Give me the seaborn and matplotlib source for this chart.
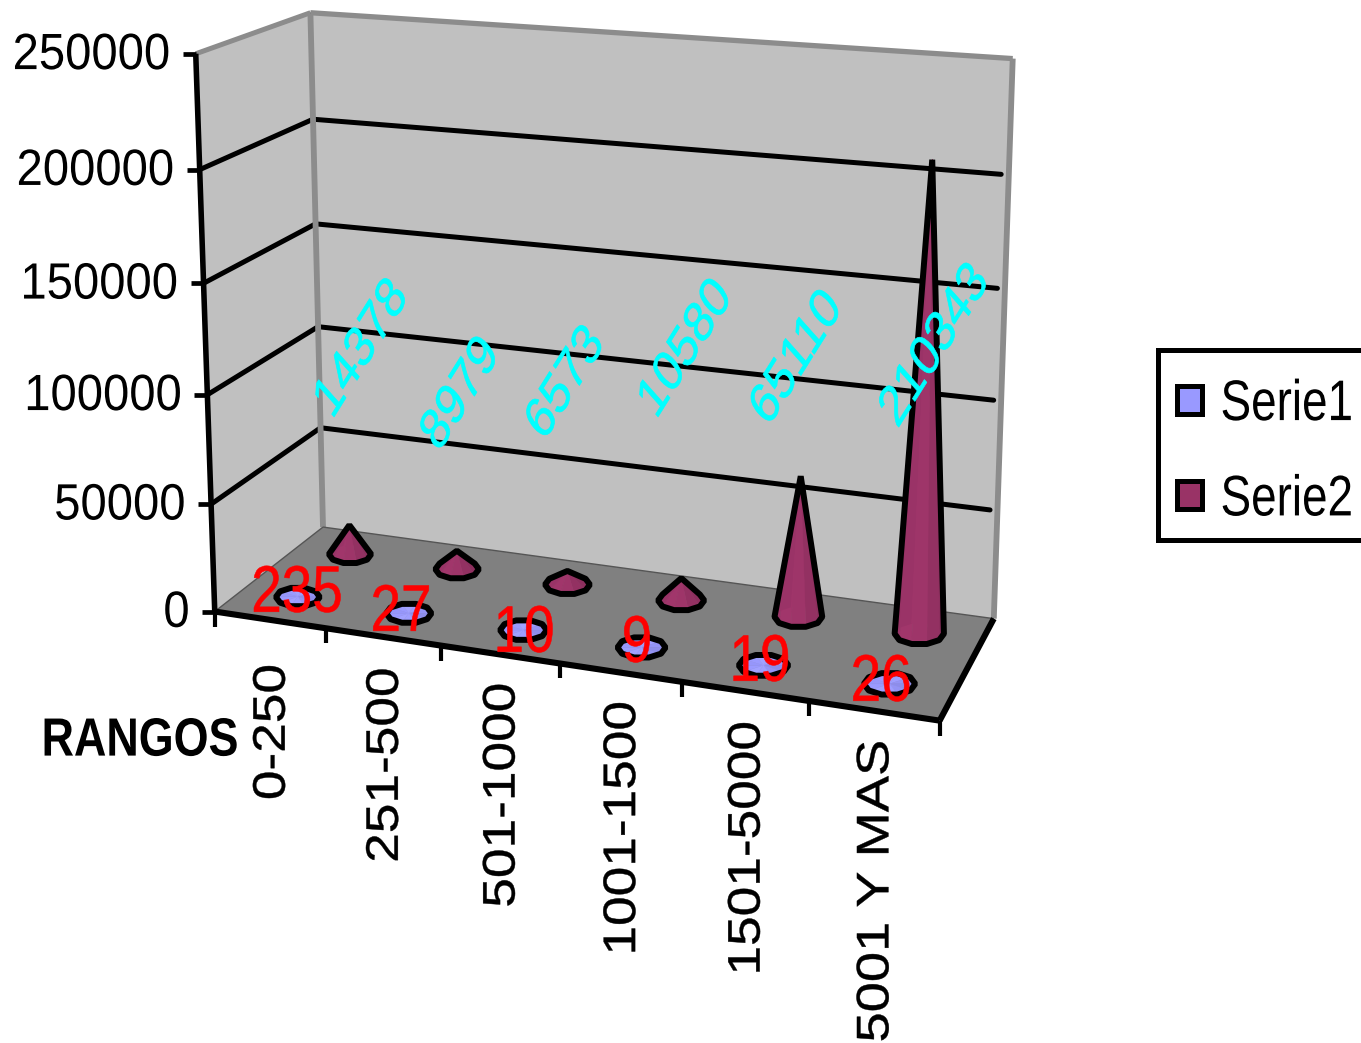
import numpy as np
import pandas as pd
import matplotlib
matplotlib.use("Agg")
import matplotlib.pyplot as plt
import matplotlib.patheffects as pe
from matplotlib.patches import Patch, Rectangle
from matplotlib.transforms import Affine2D
import seaborn as sns

# ---------- data ----------
categories = ["0-250", "251-500", "501-1000", "1001-1500", "1501-5000", "5001 Y MAS"]
serie1 = [235, 27, 10, 9, 19, 26]
serie2 = [14378, 8979, 6573, 10580, 65110, 210343]
value_ticks = [0, 50000, 100000, 150000, 200000, 250000]

# ---------- styling / layout ----------
W, H = 1361, 1043
VMAX = 250000
WALL, FLOOR, EDGE = "#c0c0c0", "#808080", "#8c8c8c"
C1, C2 = "#9999ff", "#993366"
FONT = "Liberation Sans"

sns.set_theme(style="white")
plt.rcParams["font.family"] = [FONT, "DejaVu Sans"]
plt.rcParams["text.color"] = "black"

# label placement (layout only)
cat_label_cy = [732, 765, 795, 828, 848, 891]
cat_label_stretch = [1.05, 1.05, 1.05, 1.05, 1.05, 1.07]
cyan_xy = [(362, 349), (461, 394), (566, 383), (686, 349), (797, 358), (935, 346)]
red_xy = [(297, 594), (401, 613), (524, 634), (637, 644), (760, 663), (881, 683)]

# Camera: corners of the plot box -> picture pixels (layout only)
box_world = [(0, 0, 0), (1, 0, 0), (0, 1, 0), (1, 1, 0), (0, 0, 1), (0, 1, 1), (1, 1, 1)]
box_pixel = [(215, 612), (938, 722), (323, 527), (995, 617), (197, 52), (309, 14), (1013, 59)]


def fit_camera(world, pixel):
    rows = []
    for (x, y, z), (px, py) in zip(world, pixel):
        px, py = px / 1000, py / 1000
        rows.append([x, y, z, 1, 0, 0, 0, 0, -px * x, -px * y, -px * z, -px])
        rows.append([0, 0, 0, 0, x, y, z, 1, -py * x, -py * y, -py * z, -py])
    _, _, vt = np.linalg.svd(np.array(rows, float))
    return vt[-1].reshape(3, 4)


CAM = fit_camera(box_world, box_pixel)


def proj(u, v, value):
    q = CAM @ np.array([u, v, value / VMAX, 1.0])
    return np.array([1000 * q[0] / q[2], 1000 * q[1] / q[2]])


def hull(points):
    pts = sorted(map(tuple, points))

    def half(seq):
        out = []
        for p in seq:
            while len(out) > 1:
                a, b = np.subtract(out[-1], out[-2]), np.subtract(p, out[-2])
                if a[0] * b[1] - a[1] * b[0] <= 0:
                    out.pop()
                else:
                    break
            out.append(p)
        return out[:-1]

    return np.array(half(pts) + half(pts[::-1]))


class Stretch(pe.AbstractPathEffect):
    """Stretch real text about its centre, as the source picture's scaling did."""

    def __init__(self, sx=1.0, sy=1.0, bold=0.0):
        super().__init__()
        self.sx, self.sy, self.bold = sx, sy, bold

    def draw_path(self, renderer, gc, tpath, affine, rgbFace=None):
        e = tpath.get_extents(affine)
        cx, cy = (e.x0 + e.x1) / 2, (e.y0 + e.y1) / 2
        post = Affine2D().translate(-cx, -cy).scale(self.sx, self.sy).translate(cx, cy)
        if self.bold:
            gc.set_linewidth(self.bold)
        renderer.draw_path(gc, tpath, affine + post, rgbFace)


fig = plt.figure(figsize=(W / 100, H / 100), dpi=100)
ax = fig.add_axes([0, 0, 1, 1])
ax.set_xlim(0, W)
ax.set_ylim(H, 0)
ax.axis("off")


# ---------- box ----------
def face(corners, color, z):
    ax.fill(*zip(*[proj(*c) for c in corners]), color=color, lw=0, zorder=z)


def seg(a, b, color, lw, z=2):
    pa, pb = proj(*a), proj(*b)
    ax.plot([pa[0], pb[0]], [pa[1], pb[1]], color=color, lw=lw, zorder=z, solid_capstyle="butt")


face([(0, 0, 0), (0, 0, VMAX), (0, 1, VMAX), (0, 1, 0)], WALL, 1)
face([(0, 1, 0), (0, 1, VMAX), (1, 1, VMAX), (1, 1, 0)], WALL, 1)
face([(0, 0, 0), (0, 1, 0), (1, 1, 0), (1, 0, 0)], FLOOR, 1)

# gridlines through seaborn
grid_rows = []
for val in value_ticks[1:-1]:
    for order, (u, v) in enumerate([(0, 0), (0, 1), (0.99, 1)]):
        x, y = proj(u, v, val)
        grid_rows.append(dict(val=val, order=order, x=x, y=y))
sns.lineplot(data=pd.DataFrame(grid_rows), x="x", y="y", units="val", estimator=None, sort=False,
             color="black", linewidth=3.6, ax=ax, legend=False, zorder=2)
ax.set_xlabel("")
ax.set_ylabel("")

seg((0, 1, 0), (0, 1, VMAX), EDGE, 4.2)
seg((0, 0, VMAX), (0, 1, VMAX), "black", 1.5)
seg((0, 0, VMAX), (0, 1, VMAX), EDGE, 3.6)
seg((0, 1, VMAX), (1, 1, VMAX), EDGE, 3.8)
seg((1, 1, 0), (1, 1, VMAX), EDGE, 4.2)
seg((0, 1, 0), (1, 1, 0), "#555555", 1)
seg((0, 0, 0), (0, 1, 0), "#555555", 1)
seg((0, 0, 0), (0, 0, VMAX), "black", 4.0, 3)
seg((0, 0, 0), (1, 0, 0), "black", 4.4, 3)
seg((1, 0, 0), (1, 1, 0), "black", 4.4, 3)

# ticks and value labels
for val in value_ticks:
    p = proj(0, 0, val)
    ax.plot([p[0] - 13, p[0]], [p[1], p[1]], color="black", lw=3.4, zorder=3, solid_capstyle="butt")
    ax.text(p[0] - 25, p[1] + 2, str(val), ha="right", va="center", fontsize=34, color="black",
            path_effects=[Stretch(1.0, 1.08)])
for i in range(len(categories) + 1):
    p = proj(i / len(categories), 0, 0)
    ax.plot([p[0], p[0]], [p[1], p[1] + 15], color="black", lw=3, zorder=3, solid_capstyle="butt")

# category labels
for i, (cat, cy, s) in enumerate(zip(categories, cat_label_cy, cat_label_stretch)):
    p = proj((i + 0.5) / len(categories), 0, 0)
    ax.text(p[0] + 3, cy, cat, rotation=90, ha="center", va="center", fontsize=36.5, color="black",
            path_effects=[Stretch(0.9, s, 0.3)])
ax.text(140, 741, "RANGOS", ha="center", va="center", fontsize=32.3, fontweight="bold", color="black",
        path_effects=[Stretch(1.0, 1.2)])


# ---------- cones ----------
def shade(hex_color, f):
    rgb = np.array(matplotlib.colors.to_rgb(hex_color))
    return tuple(np.clip(rgb * f, 0, 1))


def cone(u, v, value, color, z):
    sides = 10
    angles = np.pi / 2 + np.pi / sides + 2 * np.pi * np.arange(sides) / sides
    centre = proj(u, v, 0)
    scale = np.linalg.norm(proj(u + 0.02, v, 0) - proj(u - 0.02, v, 0)) / 29.0
    base = centre + np.column_stack([24 * scale * np.cos(angles), 10.5 * scale * np.sin(angles)])
    apex = proj(u, v, value)
    for k in range(sides):
        tri = np.array([apex, base[k], base[(k + 1) % sides]])
        ax.fill(tri[:, 0], tri[:, 1], color=shade(color, 1.0 - 0.05 * np.cos(angles[k] * 2) - 0.03 * np.cos(angles[k])),
                lw=0.3, zorder=z)
    outline = hull(np.vstack([base, apex]))
    ax.fill(outline[:, 0], outline[:, 1], fill=False, edgecolor="black", lw=4.3, joinstyle="bevel", zorder=z + 0.1)


n = len(categories)
for i in range(n):
    u = (i + 0.5) / n
    cone(u, 0.75, serie2[i], C2, 4 + (n - i) * 0.01)
    cone(u, 0.25, serie1[i], C1, 5 + (n - i) * 0.01)

# ---------- data labels ----------
for i in range(n):
    ax.text(*cyan_xy[i], f"{serie2[i]}", color="#00ffff", fontsize=31, rotation=50,
            ha="center", va="center", zorder=7, path_effects=[Stretch(1.0, 1.34, 0.5)])
    ax.text(*red_xy[i], f"{serie1[i]}", color="#ff0000", fontsize=39.5, ha="center", va="center",
            zorder=8, path_effects=[Stretch(1.0, 1.2, 0.4)])

# ---------- legend ----------
ax.add_patch(Rectangle((1158, 350), 260, 190, facecolor="white", edgecolor="black", lw=3.6, zorder=9))
handles = [Patch(facecolor=C1, edgecolor="black", linewidth=3.6, label="Serie1"),
           Patch(facecolor=C2, edgecolor="black", linewidth=3.6, label="Serie2")]
leg = ax.legend(handles=handles, loc="upper left", bbox_to_anchor=(1177 / W, 1 - 382 / H),
                bbox_transform=fig.transFigure, fontsize=33, frameon=False, handlelength=0.55, handleheight=0.55,
                handletextpad=0.4, labelspacing=1.12, borderpad=0, borderaxespad=0, labelcolor="black")
for t in leg.get_texts():
    t.set_path_effects([Stretch(1.0, 1.25)])
leg.set_zorder(10)

fig.savefig("out.png", dpi=100)
